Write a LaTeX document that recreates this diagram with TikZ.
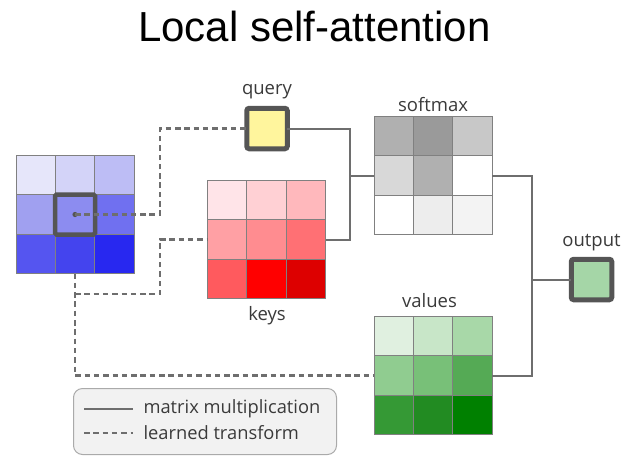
\documentclass[tikz,border=0pt]{standalone}
\usepackage{fontspec}
\setmainfont{Open Sans}
\newfontfamily\titlefont{Liberation Sans}
\usetikzlibrary{calc}

% cell colours of the four 3x3 grids
\definecolor{b11}{HTML}{E6E6FA}\definecolor{b12}{HTML}{D3D3F8}\definecolor{b13}{HTML}{BDBDF5}
\definecolor{b21}{HTML}{A0A0F0}\definecolor{b22}{HTML}{8C8CF0}\definecolor{b23}{HTML}{7070F0}
\definecolor{b31}{HTML}{5555F0}\definecolor{b32}{HTML}{4444EE}\definecolor{b33}{HTML}{2828F0}
\definecolor{r11}{HTML}{FFE4E8}\definecolor{r12}{HTML}{FFD0D4}\definecolor{r13}{HTML}{FFB8BC}
\definecolor{r21}{HTML}{FFA0A4}\definecolor{r22}{HTML}{FF8C90}\definecolor{r23}{HTML}{FF7074}
\definecolor{r31}{HTML}{FF5A5E}\definecolor{r32}{HTML}{FF0000}\definecolor{r33}{HTML}{DD0000}
\definecolor{s11}{HTML}{B0B0B0}\definecolor{s12}{HTML}{9A9A9A}\definecolor{s13}{HTML}{C8C8C8}
\definecolor{s21}{HTML}{D8D8D8}\definecolor{s22}{HTML}{B0B0B0}\definecolor{s23}{HTML}{FFFFFF}
\definecolor{s31}{HTML}{FFFFFF}\definecolor{s32}{HTML}{EDEDED}\definecolor{s33}{HTML}{F3F3F3}
\definecolor{g11}{HTML}{E0F0E0}\definecolor{g12}{HTML}{C8E6C8}\definecolor{g13}{HTML}{A8D8A8}
\definecolor{g21}{HTML}{90CC90}\definecolor{g22}{HTML}{78C078}\definecolor{g23}{HTML}{55AA55}
\definecolor{g31}{HTML}{359935}\definecolor{g32}{HTML}{228B22}\definecolor{g33}{HTML}{008000}
\definecolor{framegray}{HTML}{555555}
\definecolor{gridline}{HTML}{808080}
\definecolor{wire}{HTML}{6E6E6E}
\definecolor{queryfill}{HTML}{FFF59D}
\definecolor{outfill}{HTML}{A5D6A7}
\definecolor{legendfill}{HTML}{F2F2F2}
\definecolor{legendline}{HTML}{AAAAAA}
\definecolor{labeltext}{HTML}{3A3A3A}

\tikzset{
  gridbox/.style={minimum size=118pt, inner sep=0pt, outer sep=0pt},
  vecbox/.style={draw=framegray, line width=5pt, rounded corners=2.5pt,
                 minimum size=40.5pt, inner sep=0pt, outer sep=0pt},
  lbl/.style={font=\fontsize{18.5}{20}\selectfont, text=labeltext, anchor=base},
  matmul/.style={draw=wire, line width=2pt},
  learned/.style={draw=wire, line width=2.2pt, dash pattern=on 5.5pt off 3.8pt},
}

% fill a 3x3 grid centred on node #1 with colours #2<row><col>
\newcommand{\cellgrid}[2]{%
  \foreach \r in {1,2,3}{\foreach \c in {1,2,3}{%
    \fill[#2\r\c] ($(#1.north west)+({(\c-1)*118/3},{(\r-1)*118/3})$)
      rectangle ++(118/3,118/3);}}
  \foreach \k in {1,2}{%
    \draw[gridline, line width=0.9pt] ($(#1.north west)+({\k*118/3},0)$) -- ++(0,118);
    \draw[gridline, line width=0.9pt] ($(#1.north west)+(0,{\k*118/3})$) -- ++(118,0);}
  \draw[gridline, line width=0.9pt] (#1.north west) rectangle (#1.south east);}

\begin{document}
\begin{tikzpicture}[x=1pt, y=-1pt]
\useasboundingbox (0,0) rectangle (623,456);

% title
\node[font=\titlefont\fontsize{42}{46}\selectfont, anchor=base] (title) at (314.5,41.7) {Local self-attention};

% grids
\node[gridbox] (inp) at (75,214.5) {};
\node[gridbox] (key) at (266.5,239.5) {};
\node[gridbox] (sm)  at (433,175.5) {};
\node[gridbox] (val) at (433,375.5) {};
\cellgrid{inp}{b}
\cellgrid{key}{r}
\cellgrid{sm}{s}
\cellgrid{val}{g}

% highlighted pixel of the input
\node[draw=framegray, line width=4.5pt, rounded corners=1.5pt, minimum size=40pt,
      inner sep=0pt] (pix) at (inp.center) {};
\fill[framegray] (inp.center) circle (2.6pt);

% query and output vectors
\node[vecbox, fill=queryfill] (query) at (267,128.5) {};
\node[vecbox, fill=outfill] (out) at (591.5,279.5) {};

% labels
\node[lbl] (lq) at (267,94.5) {query};
\node[lbl] (lk) at (267,320) {keys};
\node[lbl] (ls) at (433,111.5) {softmax};
\node[lbl] (lv) at (429.5,307.5) {values};
\node[lbl] (lo) at (591.5,246) {output};

% junction columns
\coordinate (busL) at (160,0);
\coordinate (busM) at (350,0);
\coordinate (busR) at (532,0);
\coordinate (kb) at (75,294);

% learned transforms from the input
\draw[learned] (inp.center) -- (inp.center -| busL) |- (query.west);
\draw[learned] (inp.south) |- (val.west);
\draw[learned] (kb) -- (kb -| busL) |- (key.west);

% matrix multiplications
\draw[matmul] (query.east) -| (busM |- sm.west) |- (key.east);
\draw[matmul] (busM |- sm.west) -- (sm.west);
\draw[matmul] (sm.east) -| (busR |- val.east) -- (val.east);
\draw[matmul] (busR |- out.west) -- (out.west);

% legend
\node[draw=legendline, fill=legendfill, line width=1pt, rounded corners=9pt,
      minimum width=263pt, minimum height=66pt, inner sep=0pt] (legend) at (205,421.5) {};
\coordinate (l1) at (84,409);
\coordinate (l2) at (84,433);
\draw[matmul] (l1) -- ++(49,0) coordinate (l1e);
\draw[learned] (l2) -- ++(49,0) coordinate (l2e);
\node[font=\fontsize{18.3}{20}\selectfont, text=labeltext, anchor=west] (t1) at ($(l1e)+(7,0)$) {matrix multiplication};
\node[font=\fontsize{18.3}{20}\selectfont, text=labeltext, anchor=west] (t2) at ($(l2e)+(7,0)$) {learned transform};
\end{tikzpicture}
\end{document}
